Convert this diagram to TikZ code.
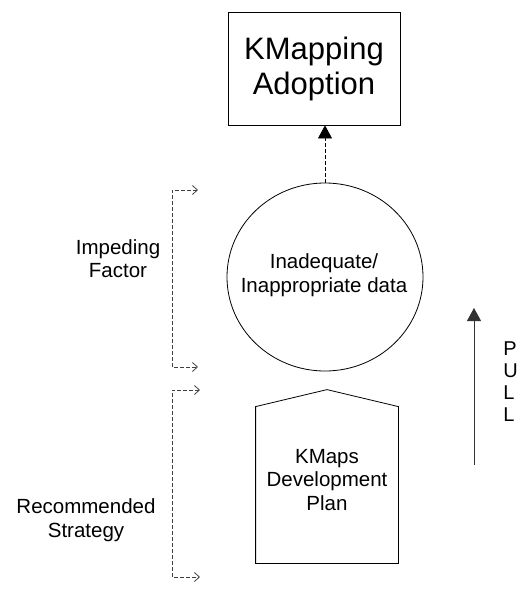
\documentclass[tikz,border=0pt]{standalone}
\usepackage{fontspec}
\setmainfont{Liberation Sans}
\usetikzlibrary{arrows.meta,shapes.geometric}

\tikzset{
  lbl/.style={align=center, font=\fontsize{20.5}{23.5}\selectfont},
  bracket/.style={dashed, dash pattern=on 4pt off 2pt, draw=black!75, line width=0.8pt,
    {Straight Barb[length=5pt,width=9pt]}-{Straight Barb[length=5pt,width=9pt]}},
  bigtip/.style={-{Triangle[length=13pt,width=14pt]}}
}

\begin{document}
\begin{tikzpicture}[x=1pt, y=-1pt, line width=0.8pt]
    \useasboundingbox (0,0) rectangle (519,600);

    % boxes
    \node[draw, minimum width=172pt, minimum height=113pt, align=center,
          font=\fontsize{31}{35}\selectfont] (adoption) at (314,68.5) {KMapping\\Adoption};
    \node[draw, ellipse, minimum width=196pt, minimum height=188pt, inner sep=0pt] (data) at (325,277) {};
    \node[lbl] (datatext) at (324,275) {Inadequate/\\Inappropriate data};
    \node[minimum width=142pt, minimum height=156pt] (plan) at (327,485) {};
    \node[lbl] (plantext) at (327,480) {KMaps\\Development\\Plan};
    \draw (plan.south west) -- (plan.north west) -- ([yshift=17pt]plan.north)
          -- (plan.north east) -- (plan.south east) -- cycle;

    % arrow up to adoption
    \draw[bigtip, dashed, dash pattern=on 4pt off 2pt] (data.north) -- (data.north |- adoption.south);

    % brackets
    \coordinate (ftop) at (198,190);
    \coordinate (fbot) at (198,367);
    \coordinate (stop) at (200,390);
    \coordinate (sbot) at (200,577);
    \draw[bracket] (ftop) -- (172,190) |- (fbot);
    \draw[bracket] (stop) -- (172,390) |- (sbot);
    \node[lbl] (factor) at (118,258.5) {Impeding\\Factor};
    \node[lbl] (strategy) at (86,520) {Recommended\\Strategy};

    % pull arrow
    \coordinate (pbot) at (474,465);
    \coordinate (ptop) at (474,308);
    \draw[bigtip, draw=black!80] (pbot) -- (ptop);
    \node[lbl, anchor=north west, align=left, inner sep=0pt,
          font=\fontsize{20}{22}\selectfont] (pull) at (503,341) {P\\U\\L\\L};
\end{tikzpicture}
\end{document}
